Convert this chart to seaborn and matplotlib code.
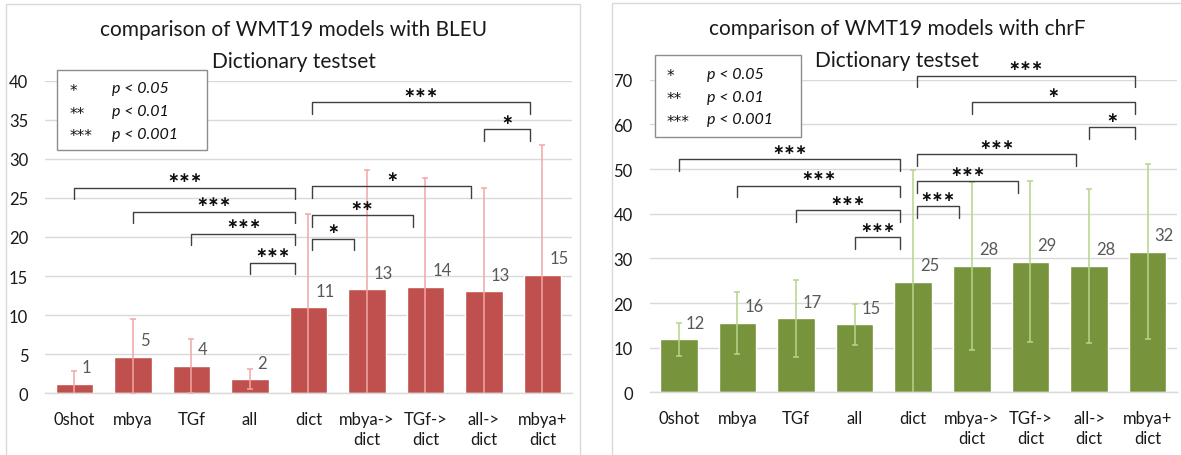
import numpy as np
import pandas as pd
import matplotlib
matplotlib.use("Agg")
import matplotlib.pyplot as plt
import seaborn as sns
from matplotlib.patches import Rectangle
from matplotlib.lines import Line2D

# ---------------- data ----------------
categories = ["0shot", "mbya", "TGf", "all", "dict",
              "mbya->\ndict", "TGf->\ndict", "all->\ndict", "mbya+\ndict"]

bleu_values = [1.2, 4.7, 3.55, 1.8, 11.0, 13.3, 13.65, 13.05, 15.2]
bleu_errors = [1.65, 4.75, 3.45, 1.3, 11.9, 15.3, 13.9, 13.25, 16.55]

chrf_values = [11.9, 15.6, 16.6, 15.2, 24.7, 28.3, 29.3, 28.3, 31.5]
chrf_errors = [3.65, 6.9, 8.6, 4.7, 25.1, 18.8, 18.0, 17.2, 19.6]

# significance comparisons: (from category index, to category index, stars)
bleu_comparisons = [(0, 4, "***"), (1, 4, "***"), (2, 4, "***"), (3, 4, "***"),
                    (4, 5, "*"), (4, 6, "**"), (4, 7, "*"), (4, 8, "***"),
                    (7, 8, "*")]
bleu_bracket_levels = [26.3, 23.2, 20.4, 16.7, 19.8, 22.8, 26.5, 37.25, 33.8]

chrf_comparisons = [(0, 4, "***"), (1, 4, "***"), (2, 4, "***"), (3, 4, "***"),
                    (4, 5, "***"), (4, 6, "***"), (4, 7, "***"), (4, 8, "***"),
                    (5, 8, "*"), (7, 8, "*")]
chrf_bracket_levels = [52.2, 46.3, 40.8, 34.7, 41.7, 47.3, 53.3, 70.9, 64.9, 59.3]

legend_stars = ["*", "**", "***"]
legend_pvals = ["p < 0.05", "p < 0.01", "p < 0.001"]

bleu_title = ["comparison of WMT19 models with BLEU", "Dictionary testset"]
chrf_title = ["comparison of WMT19 models with chrF", "Dictionary testset"]

# ---------------- style ----------------
sns.set_theme(style="white")
plt.rcParams["font.family"] = ["Lato", "DejaVu Sans"]

W, H = 1181, 456
fig = plt.figure(figsize=(W / 100, H / 100), dpi=100)


def fx(x):
    return x / W


def fy(y):
    return 1 - y / H


def draw_panel(rect_px, values, errors, bar_color, err_color, ymax, ystep,
               comparisons, levels, title_lines, title_pos, legend_box, legend_rows):
    x0, y0, x1, y1 = rect_px
    ax = fig.add_axes([fx(x0), fy(y1), (x1 - x0) / W, (y1 - y0) / H])
    df = pd.DataFrame({"model": categories, "score": values})
    sns.barplot(data=df, x="model", y="score", color=bar_color, width=0.64,
                saturation=1, ax=ax, zorder=2, errorbar=None)
    ax.errorbar(np.arange(len(values)), values, yerr=errors, fmt="none",
                ecolor=err_color, elinewidth=1.1, capsize=2.5, capthick=1.1,
                zorder=3)
    ax.set_ylim(0, ymax)
    ax.set_xlim(-0.5, len(values) - 0.5)
    ax.set_yticks(np.arange(0, ymax + 0.1, ystep))
    ax.yaxis.grid(True, color="#d9d9d9", lw=1.0, zorder=0)
    ax.set_axisbelow(True)
    for s in ["left", "right", "top"]:
        ax.spines[s].set_visible(False)
    ax.spines["bottom"].set_color("#d9d9d9")
    ax.spines["bottom"].set_linewidth(1.0)
    ax.set_xlabel("")
    ax.set_ylabel("")
    ax.tick_params(axis="y", length=0, pad=12, labelsize=12, labelcolor="#1a1a1a")
    ax.tick_params(axis="x", length=0, pad=12.5, labelsize=12, labelcolor="#1a1a1a")
    for lab in ax.get_xticklabels():
        lab.set_linespacing(1.35)
        lab.set_verticalalignment("top")

    # data labels
    for i, v in enumerate(values):
        ax.annotate(f"{v:.0f}", xy=(i, v), xytext=(5, 12),
                    textcoords="offset points", ha="left", va="center",
                    color="#595959", fontsize=12)

    # significance brackets
    ppu = (y1 - y0) / ymax  # pixels per data unit
    leg = 11.5 / ppu
    toff = 10.5 / ppu
    for (a, b, stars), h in zip(comparisons, levels):
        xa = a + (0.07 if a == 4 else 0.0)
        xb = b - 0.22
        ax.add_line(Line2D([xa, xa, xb, xb], [h - leg, h, h, h - leg],
                           color="#404040", lw=1.0, clip_on=False, zorder=4))
        ax.text((xa + xb) / 2, h + toff, "\u2217" * len(stars),
                ha="center", va="center", fontsize=10,
                family="DejaVu Sans", fontweight="bold", color="#111111",
                clip_on=False, zorder=5)

    # title (two separate lines)
    tx, ty1, ty2 = title_pos
    for line, ty in zip(title_lines, (ty1, ty2)):
        fig.text(fx(tx), fy(ty), line, ha="center", va="center",
                 fontsize=15, color="#1a1a1a")

    # legend box
    bx0, by0, bx1, by1 = legend_box
    fig.add_artist(Rectangle((fx(bx0), fy(by1)), (bx1 - bx0) / W, (by1 - by0) / H,
                             transform=fig.transFigure, fill=True, fc="white",
                             ec="#8c8c8c", lw=1.0, zorder=6))
    sx, px_, rows = legend_rows
    for st, pv, ry in zip(legend_stars, legend_pvals, rows):
        fig.text(fx(sx), fy(ry + 2), st, ha="left", va="center", fontsize=11,
                 family="DejaVu Sans", color="#111111", zorder=7)
        fig.text(fx(px_), fy(ry), pv, ha="left", va="center", fontsize=11.5,
                 style="italic", color="#111111", zorder=7)
    return ax


# panel borders
for (l, t, r) in [(6, 5, 580), (612, 4, 1200)]:
    fig.add_artist(Rectangle((fx(l), fy(470)), (r - l) / W, (470 - t) / H,
                             transform=fig.transFigure, fill=False,
                             ec="#d9d9d9", lw=1.0))

draw_panel((45, 81.7, 571.7, 394.3), bleu_values, bleu_errors, "#C0504D",
           "#F2A7A5", 40, 5, bleu_comparisons, bleu_bracket_levels, bleu_title,
           (293.5, 30, 61.7), (57.3, 71.3, 206.7, 150.7),
           (70.0, 111.7, [89.5, 112.3, 134.7]))

draw_panel((649.5, 80.7, 1177, 393.4), chrf_values, chrf_errors, "#77933C",
           "#B5D58C", 70, 10, chrf_comparisons, chrf_bracket_levels, chrf_title,
           (897, 29.3, 61), (654.7, 56, 800.7, 137.7),
           (667, 706.6, [75, 97.7, 120]))

fig.savefig("out.png", dpi=100)
